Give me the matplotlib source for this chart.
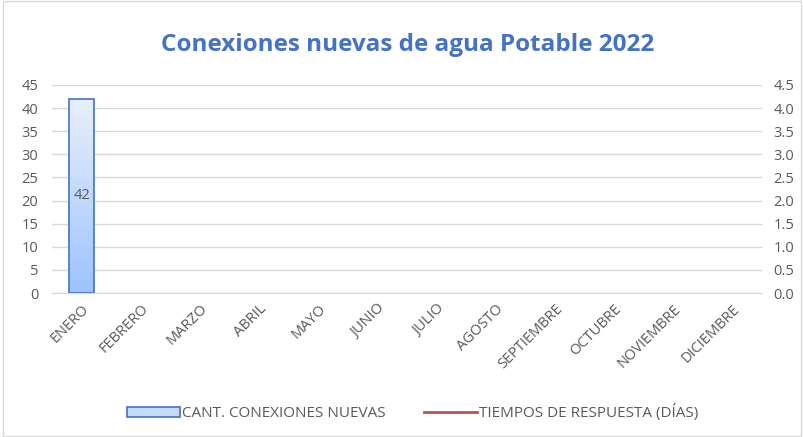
import numpy as np
import matplotlib.pyplot as plt
from matplotlib.patches import Rectangle, Patch
from matplotlib.lines import Line2D
from matplotlib.colors import LinearSegmentedColormap

plt.rcParams['font.family'] = ['Open Sans', 'DejaVu Sans']

# data
meses = ['ENERO', 'FEBRERO', 'MARZO', 'ABRIL', 'MAYO', 'JUNIO', 'JULIO',
         'AGOSTO', 'SEPTIEMBRE', 'OCTUBRE', 'NOVIEMBRE', 'DICIEMBRE']
conexiones = [42, np.nan, np.nan, np.nan, np.nan, np.nan, np.nan,
              np.nan, np.nan, np.nan, np.nan, np.nan]
tiempos = [np.nan] * 12
yticks_left = [0, 5, 10, 15, 20, 25, 30, 35, 40, 45]
yticks_right = [0.0, 0.5, 1.0, 1.5, 2.0, 2.5, 3.0, 3.5, 4.0, 4.5]

gray = '#595959'
fig = plt.figure(figsize=(8.04, 4.37), dpi=100)
fig.patches.append(Rectangle((0.004, 0.002), 0.992, 0.996, transform=fig.transFigure,
                             fill=False, edgecolor='#D9D9D9', linewidth=1))
ax = fig.add_axes([0.0647, 0.3295, 0.8833, 0.476])
ax2 = ax.twinx()

x = np.arange(len(meses))
width = 0.42
cmap = LinearSegmentedColormap.from_list('grad', ['#9DC3FF', '#E8F0FC'])
bars = ax.bar(x, conexiones, width, facecolor='none', edgecolor='#4472C4', linewidth=1.2, zorder=3)
for b, v in zip(bars, conexiones):
    if np.isnan(v):
        continue
    grad = np.linspace(0, 1, 256).reshape(-1, 1)
    im = ax.imshow(grad, cmap=cmap, origin='lower', aspect='auto', zorder=2,
                   extent=[b.get_x(), b.get_x() + b.get_width(), 0, v])
    im.set_clip_path(b)
    ax.text(b.get_x() + b.get_width() / 2, v / 2, f'{int(v)}', ha='center', va='center',
            fontsize=10.5, color=gray, zorder=4)

ax2.plot(x, tiempos, color='#C0504D', linewidth=2)

ax.set_xlim(-0.5, len(meses) - 0.5)
ax.set_ylim(0, 45)
ax2.set_ylim(0, 4.5)
ax.set_yticks(yticks_left)
ax2.set_yticks(yticks_right)
ax2.set_yticklabels([f'{t:.1f}' for t in yticks_right])
ax.set_xticks(x)
ax.set_xticklabels(meses, rotation=45, ha='right', rotation_mode='anchor')
ax.yaxis.grid(True, color='#D9D9D9', linewidth=1, zorder=0)
ax.set_axisbelow(True)
for a in (ax, ax2):
    for s in a.spines.values():
        s.set_visible(False)
    a.tick_params(length=0, labelsize=10.5, colors=gray)
ax.spines['bottom'].set_visible(True)
ax.spines['bottom'].set_color('#D9D9D9')
ax.tick_params(axis='x', pad=6)
ax.tick_params(axis='y', pad=10)
ax2.tick_params(axis='y', pad=8)

fig.text(0.507, 0.897, 'Conexiones nuevas de agua Potable 2022', ha='center', va='center',
         fontsize=17.5, fontweight='bold', color='#4472C4')

handles = [Patch(facecolor='#C5D9FB', edgecolor='#4472C4', linewidth=1.2),
           Line2D([0], [0], color='#C0504D', linewidth=2)]
fig.legend(handles, ['CANT. CONEXIONES NUEVAS', 'TIEMPOS DE RESPUESTA (DÍAS)'],
           loc='center', bbox_to_anchor=(0.513, 0.055), ncol=2, frameon=False,
           fontsize=11, labelcolor=gray, handlelength=3.5, handleheight=0.7,
           columnspacing=2.5, handletextpad=0.1)

fig.savefig('out.png', dpi=100)
